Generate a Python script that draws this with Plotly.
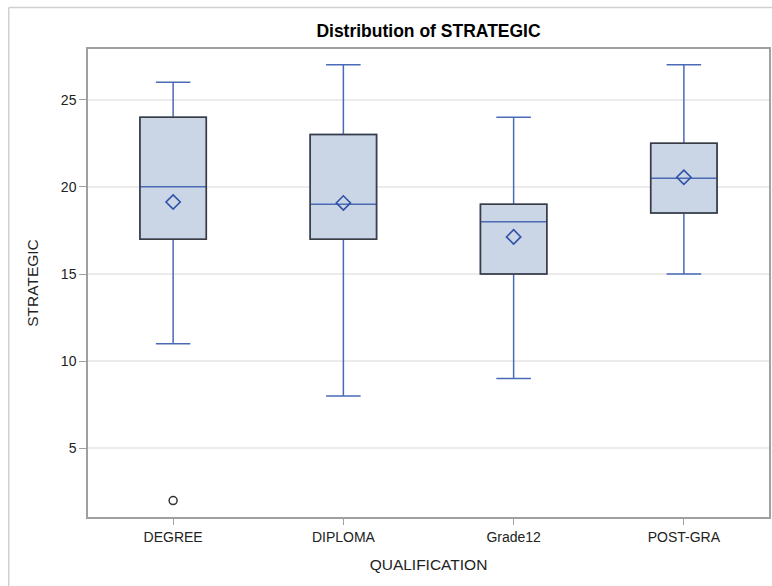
import plotly.graph_objects as go

# Summary statistics of STRATEGIC by QUALIFICATION
categories = ["DEGREE", "DIPLOMA", "Grade12", "POST-GRA"]
whisker_low = [11, 8, 9, 15]
q1 = [17, 17, 15, 18.5]
median = [20, 19, 18, 20.5]
q3 = [24, 23, 19, 22.5]
whisker_high = [26, 27, 24, 27]
means = [19.13, 19.08, 17.13, 20.55]
outlier_cat = ["DEGREE"]
outlier_val = [2]
y_ticks = [5, 10, 15, 20, 25]

BOX_W = 0.39
LINE_BLUE = "#4A6AB5"
FILL = "#CAD5E5"
OUTLINE = "#3C3C3C"
FONT = "Liberation Sans, Arial, sans-serif"

fig = go.Figure()

for i, c in enumerate(categories):
    fig.add_trace(go.Box(
        x=[c],
        q1=[q1[i]], median=[median[i]], q3=[q3[i]],
        lowerfence=[whisker_low[i]], upperfence=[whisker_high[i]],
        width=BOX_W, whiskerwidth=0.52,
        fillcolor=FILL,
        line=dict(color=LINE_BLUE, width=1.5),
        boxpoints=False, showlegend=False, hoverinfo="skip",
    ))
    # dark box outline drawn over the blue box edges
    fig.add_shape(type="rect", xref="x", yref="y",
                  x0=i - BOX_W / 2, x1=i + BOX_W / 2, y0=q1[i], y1=q3[i],
                  line=dict(color=OUTLINE, width=1.5), fillcolor="rgba(0,0,0,0)",
                  layer="above")

# means as open diamonds
fig.add_trace(go.Scatter(
    x=categories, y=means, mode="markers",
    marker=dict(symbol="diamond-open", size=11, color="#2F52A8",
                line=dict(width=1.6, color="#2F52A8")),
    showlegend=False, hoverinfo="skip",
))

# outliers
fig.add_trace(go.Scatter(
    x=outlier_cat, y=outlier_val, mode="markers",
    marker=dict(symbol="circle-open", size=8, color="#333333",
                line=dict(width=1.5, color="#333333")),
    showlegend=False, hoverinfo="skip",
))

# outer frame (left and top edges)
fig.add_shape(type="line", xref="paper", yref="paper",
              x0=-0.1164, x1=1.01, y0=1.0887, y1=1.0887,
              line=dict(color="#D0D0D0", width=1.5))
fig.add_shape(type="line", xref="paper", yref="paper",
              x0=-0.1164, x1=-0.1164, y0=1.0887, y1=-0.2,
              line=dict(color="#D0D0D0", width=1.5))

fig.update_layout(
    width=772, height=586,
    margin=dict(l=88, r=1, t=49, b=69),
    paper_bgcolor="white", plot_bgcolor="white",
    font=dict(family=FONT, size=12, color="#222222"),
    title=dict(text="<b>Distribution of STRATEGIC</b>", x=0.5, xanchor="center",
               xref="paper", y=1 - 31 / 586, yanchor="middle",
               font=dict(family=FONT, size=17.5, color="#000000")),
    boxgap=0,
)

fig.update_xaxes(
    type="category", categoryorder="array", categoryarray=categories,
    range=[-0.5, 3.5],
    showline=True, mirror=True, linecolor="#A0A0A0", linewidth=1.5,
    ticks="outside", ticklen=6, tickcolor="#A0A0A0",
    showgrid=False, zeroline=False,
    title=dict(text="QUALIFICATION", font=dict(size=15.5, color="#222222"), standoff=16),
    tickfont=dict(size=14, color="#222222"),
)
fig.update_yaxes(
    range=[1.06, 27.91], tickvals=y_ticks,
    showline=True, mirror=True, linecolor="#A0A0A0", linewidth=1.5,
    ticks="outside", ticklen=7, tickcolor="#A0A0A0",
    showgrid=True, gridcolor="#EBEBEB", gridwidth=1.5, zeroline=False,
    title=dict(text="STRATEGIC", font=dict(size=15.5, color="#222222"), standoff=18),
    tickfont=dict(size=14, color="#222222"),
)

fig.write_html("out.html")
